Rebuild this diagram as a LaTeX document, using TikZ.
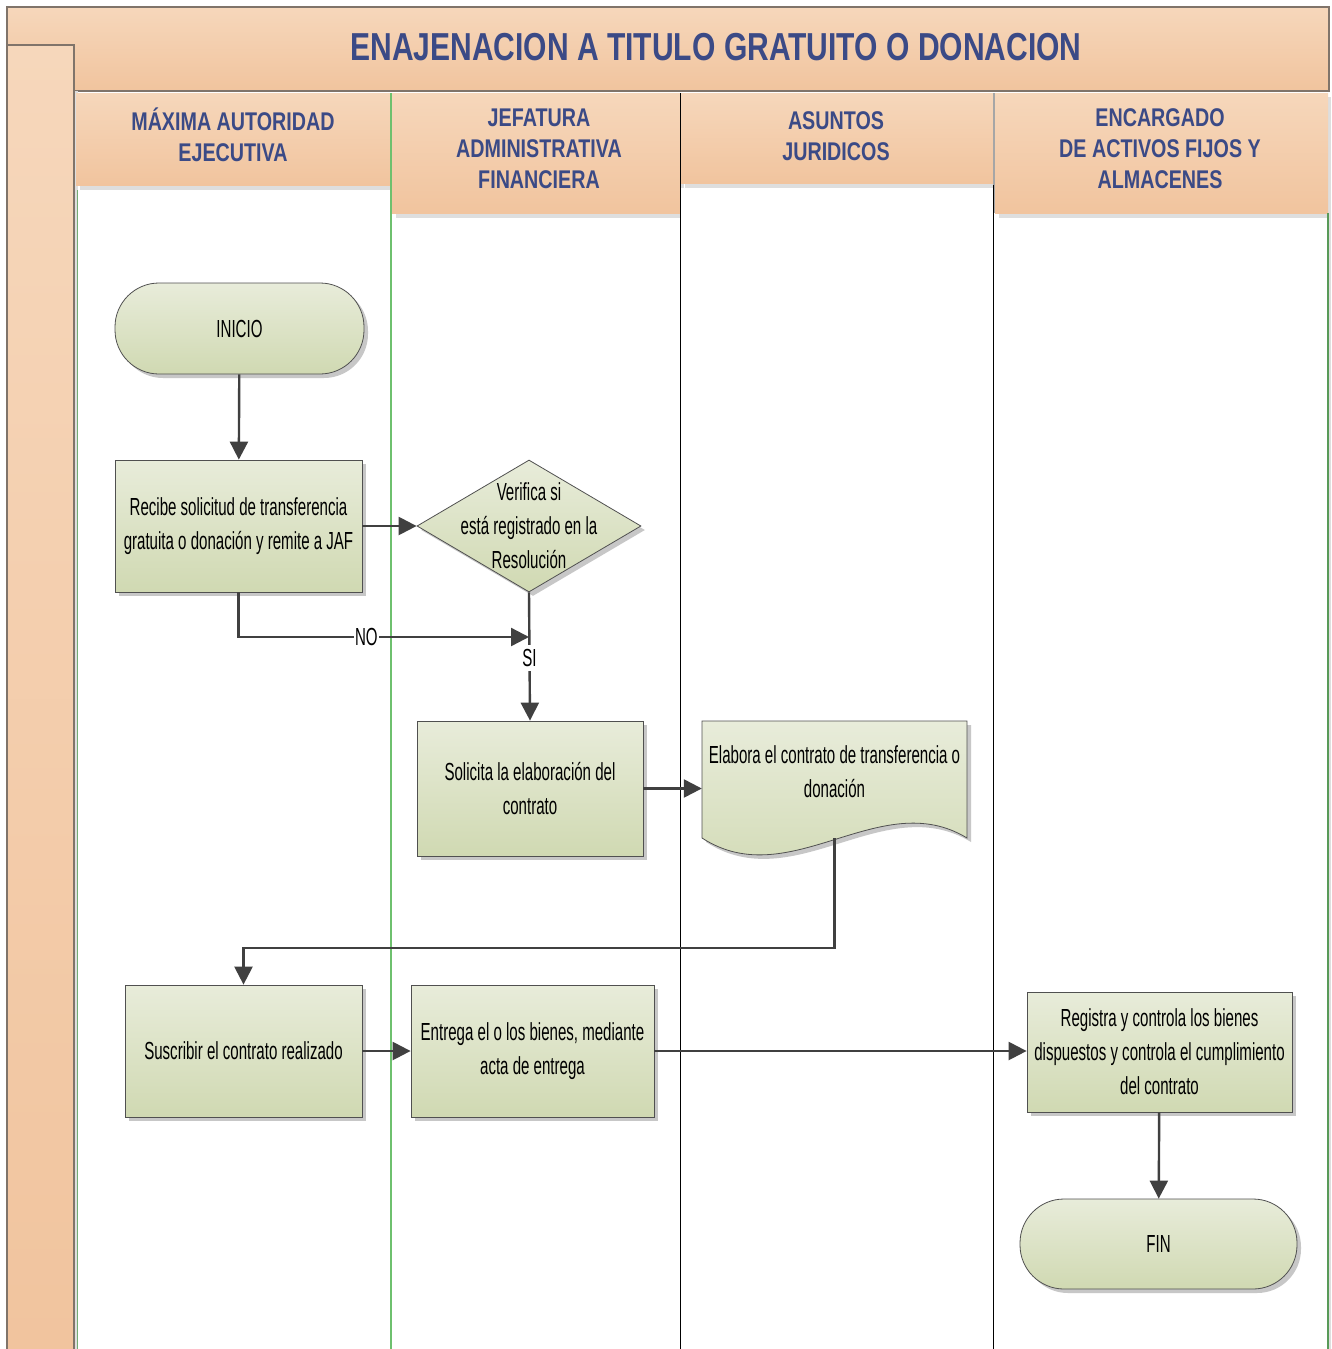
\documentclass[tikz,border=0pt]{standalone}
\usepackage{fontspec}
\setmainfont{Liberation Sans}
\newfontfamily\bodyfont{Liberation Sans}[FakeStretch=0.61]
\newfontfamily\headfont{Liberation Sans}[FakeStretch=0.77]
\usetikzlibrary{shapes.geometric,shadows,arrows.meta,calc}

\definecolor{peachtop}{RGB}{246,215,187}
\definecolor{peachbot}{RGB}{241,196,158}
\definecolor{framecol}{RGB}{128,116,106}
\definecolor{hdrblue}{RGB}{59,74,134}
\definecolor{boxtop}{RGB}{232,236,218}
\definecolor{boxbot}{RGB}{208,217,178}
\definecolor{boxline}{RGB}{80,80,80}
\definecolor{conncol}{RGB}{64,64,64}
\definecolor{lanegreen}{RGB}{110,192,110}
\definecolor{shadowgray}{RGB}{222,222,222}

\tikzset{
  bodytext/.style={font=\bodyfont\fontsize{24.7}{34}\selectfont},
  headtext/.style={font=\headfont\bfseries\fontsize{25.6}{31}\selectfont, text=hdrblue, align=center},
  hdr/.style={top color=peachtop, bottom color=peachbot},
  boxshadow/.style={drop shadow={shadow xshift=4pt, shadow yshift=-4pt, fill=black!22, opacity=1}},
  proc/.style={rectangle, draw=boxline, line width=0.8pt, top color=boxtop, bottom color=boxbot,
    inner sep=2pt, align=center, bodytext, boxshadow},
  terminal/.style={proc, rounded corners=44pt},
  decision/.style={diamond, draw=boxline, line width=0.8pt, top color=boxtop, bottom color=boxbot,
    inner sep=0pt, boxshadow},
  conn/.style={draw=conncol, line width=2.4pt, -{Triangle[length=18pt,width=18pt]}},
  lbl/.style={fill=white, inner xsep=1pt, inner ysep=4pt, bodytext}
}

\begin{document}
\begin{tikzpicture}[x=1pt,y=-1pt]
\useasboundingbox (0,0) rectangle (1331,1349);
\fill[white] (0,0) rectangle (1331,1349);

% title band and left band
\shade[hdr, draw=framecol, line width=1.6pt] (7,7) rectangle (1329,91);
\node[font=\headfont\bfseries\fontsize{39}{45}\selectfont, text=hdrblue] (title) at (716,47)
  {ENAJENACION A TITULO GRATUITO O DONACION};
\fill[shadowgray] (74,91) rectangle (78,1349);
\shade[hdr, draw=framecol, line width=1.6pt] (7,45) rectangle (74,1352);

% lane headers (shadow first, then header)
\fill[shadowgray] (80,97) rectangle (391,190);
\fill[shadowgray] (396,97) rectangle (684,218);
\fill[shadowgray] (685,97) rectangle (997,188);
\fill[shadowgray] (999,97) rectangle (1331,218);
\fill[shadowgray] (1329,218) rectangle (1331,1349);
\shade[hdr] (76,93) rectangle (391,185);
\shade[hdr] (392,93) rectangle (680,213);
\shade[hdr] (681,93) rectangle (993,183);
\shade[hdr] (995,93) rectangle (1328,213);
\fill[white] (78,190) rectangle (390,1349);
\fill[white] (392,218) rectangle (679,1349);
\fill[white] (681,188) rectangle (992,1349);
\fill[white] (995,218) rectangle (1327,1349);

\node[headtext] (h1) at (233,135) {MÁXIMA AUTORIDAD\\EJECUTIVA};
\node[headtext] (h2) at (539,149) {JEFATURA\\ADMINISTRATIVA\\FINANCIERA};
\node[headtext] (h3) at (836,136) {ASUNTOS\\JURIDICOS};
\node[headtext] (h4) at (1160,149) {ENCARGADO\\DE ACTIVOS FIJOS Y\\ALMACENES};

% lane separators
\draw[lanegreen!70!gray, line width=1pt] (77,190) -- (77,1349);
\draw[lanegreen, line width=1.2pt] (391,93) -- (391,1349);
\draw[black, line width=1pt] (680,93) -- (680,1349);
\draw[black!35, line width=1.5pt] (994,93) -- (994,213);
\draw[black, line width=1pt] (993,185) -- (993,1349);
\draw[lanegreen!80!black, line width=1.2pt] (1328,213) -- (1328,1349);

% flow nodes
\node[terminal, minimum width=249pt, minimum height=91pt] (inicio) at (239.5,328.5) {INICIO};
\node[proc, minimum width=247pt, minimum height=132pt] (recibe) at (238.5,526)
  {Recibe solicitud de transferencia\\gratuita o donación y remite a JAF};
\node[decision, minimum width=224pt, minimum height=132pt,
  label={[bodytext, align=center, name=dectext]center:Verifica si\\está registrado en la\\Resolución}]
  (dec) at (529,526) {};
\node[proc, minimum width=226pt, minimum height=135pt] (sol) at (530,788.5)
  {Solicita la elaboración del\\contrato};

% document shape with wavy bottom edge
\fill[black!22] (706,725) -- (971,725) -- (971,842)
  .. controls (884,789) and (794,899) .. (706,842) -- cycle;
\shade[top color=boxtop, bottom color=boxbot, draw=boxline, line width=0.8pt]
  (702,721) -- (967,721) -- (967,838)
  .. controls (880,785) and (790,895) .. (702,838) -- cycle;
\node[bodytext, align=center, minimum width=265pt, minimum height=117pt, inner sep=0pt] (doc) at (834.5,779.5) {};
\node[bodytext, align=center] (doctext) at (834.5,772)
  {Elabora el contrato de transferencia o\\donación};

\node[proc, minimum width=237pt, minimum height=132pt] (susc) at (243.5,1051)
  {Suscribir el contrato realizado};
\node[proc, minimum width=243pt, minimum height=132pt] (ent) at (532.5,1051)
  {Entrega el o los bienes, mediante\\acta de entrega};
\node[proc, minimum width=265pt, minimum height=120pt] (reg) at (1159.5,1052)
  {Registra y controla los bienes\\dispuestos y controla el cumplimiento\\del contrato};
\node[terminal, minimum width=277pt, minimum height=90pt] (fin) at (1158.5,1244) {FIN};

% connectors
\coordinate (junc) at (529,637);
\draw[conn] (inicio) -- (recibe);
\draw[conn] (recibe.east) -- (dec.west);
\draw[conn] (dec.south) -- node[lbl, pos=0.51] (silbl) {SI} (sol.north);
\draw[conn] (recibe.south) |- node[lbl, inner ysep=1pt, pos=0.72] (nolbl) {NO} (junc);
\draw[conn] (sol.east) -- (sol.east -| doc.west);
\draw[conn] (doc.south) -- +(0,110) -| (susc.north);
\draw[conn] (susc.east) -- (ent.west);
\draw[conn] (ent.east) -- (ent.east -| reg.west);
\draw[conn] (reg) -- (fin);
\end{tikzpicture}
\end{document}
